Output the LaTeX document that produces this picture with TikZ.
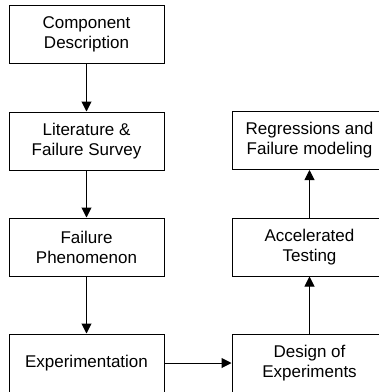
\documentclass[tikz,border=0pt]{standalone}
\usepackage{fontspec}
\setmainfont{Liberation Sans}
\usetikzlibrary{arrows.meta}
\begin{document}
\begin{tikzpicture}[x=1pt,y=-1pt,
  stepbox/.style={draw=black, line width=1pt, minimum width=155pt, minimum height=58pt,
    inner sep=0pt, align=center, font=\fontsize{17}{20}\selectfont},
  flow/.style={draw=black, line width=1pt, -{Triangle[length=10pt,width=10pt]}}]
  \path[use as bounding box, clip] (0,0) rectangle (379,392);
  \fill[white] (0,0) rectangle (379,392);
  % left column
  \node[stepbox] (comp) at (86.5,34) {Component\\Description};
  \node[stepbox] (lit)  at (86.5,141) {Literature \&\\Failure Survey};
  \node[stepbox] (fail) at (86.5,247) {Failure\\Phenomenon};
  \node[stepbox] (exp)  at (86.5,363) {Experimentation};
  % right column
  \node[stepbox] (reg)  at (309.5,140.5) {Regressions and\\Failure modeling};
  \node[stepbox] (acc)  at (309.5,247) {Accelerated\\Testing};
  \node[stepbox] (doe)  at (309.5,363) {Design of\\Experiments};
  % connectors
  \draw[flow] (comp) -- (lit);
  \draw[flow] (lit) -- (fail);
  \draw[flow] (fail) -- (exp);
  \draw[flow] (exp) -- (doe);
  \draw[flow] (doe) -- (acc);
  \draw[flow] (acc) -- (reg);
\end{tikzpicture}
\end{document}
